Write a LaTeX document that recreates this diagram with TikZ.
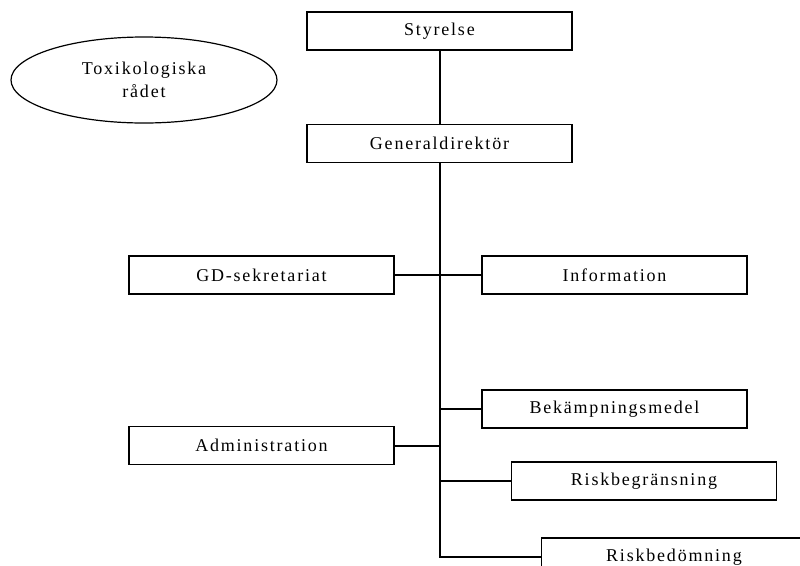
\documentclass[tikz,border=0pt]{standalone}
\usepackage{fontspec}
\setmainfont{Liberation Serif}[LetterSpace=10]
\usetikzlibrary{positioning,shapes.geometric}

\begin{document}
\begin{tikzpicture}[x=0.75pt, y=-0.75pt,
    unit/.style={draw, line width=0.9pt, minimum width=198.75pt, minimum height=28.5pt,
      inner sep=0pt, font=\fontsize{13.5}{17}\selectfont},
    council/.style={draw, ellipse, line width=0.9pt, minimum width=199.5pt, minimum height=64.5pt,
      inner sep=0pt, align=center, font=\fontsize{13.5}{17}\selectfont},
    link/.style={line width=1.5pt}]
  \useasboundingbox (0,0) rectangle (800,565);
  \clip (0,0) rectangle (800,565);
  % top of the organisation
  \node [unit] (styrelse) at (439.5,31) {Styrelse};
  \node [unit] (gd) at (439.5,143.5) {Generaldirektör};
  \node [council] (toxrad) at (144,80) {Toxikologiska\\rådet};
  % staff units
  \node [unit] (gdsek) at (261.5,275) {GD-sekretariat};
  \node [unit] (info) at (614.5,275) {Information};
  \node [unit] (admin) at (261.5,445.5) {Administration};
  % departments
  \node [unit] (bekamp) at (614.5,409) {Bekämpningsmedel};
  \node [unit] (riskbegr) at (644,481) {Riskbegränsning};
  \node [unit] (riskbed) at (674,557) {Riskbedömning};
  % connectors
  \draw [link] (styrelse.south) -- (gd.north);
  \draw [link] (gd.south) |- (riskbed.west);
  \draw [link] (gdsek.east) -- (info.west);
  \draw [link] (admin.east) -- (admin.east -| gd.south);
  \draw [link] (bekamp.west) -- (bekamp.west -| gd.south);
  \draw [link] (riskbegr.west) -- (riskbegr.west -| gd.south);
\end{tikzpicture}
\end{document}
